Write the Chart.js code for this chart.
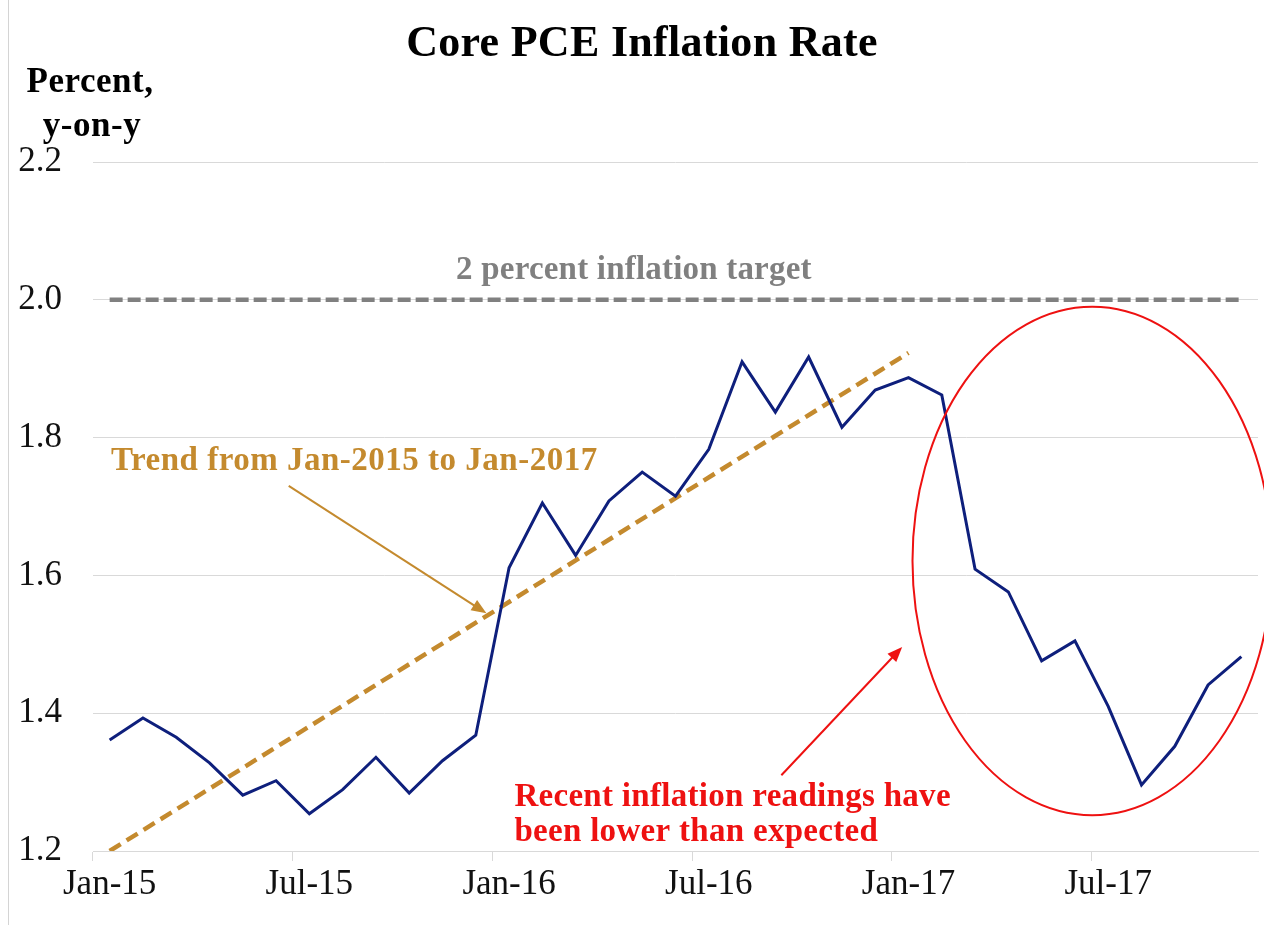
<!DOCTYPE html>
<html>
<head>
<meta charset="utf-8">
<script src="https://cdn.jsdelivr.net/npm/chart.js@4/dist/chart.umd.min.js"></script>
<style>
    html, body { margin: 0; padding: 0; background: #ffffff; }
    #wrap { position: relative; width: 1264px; height: 925px; }
    #wrap::before { content: ""; position: absolute; left: 8px; top: 0; bottom: 0; border-left: 1px solid #d4d4d4; }
</style>
</head>
<body>
<div id="wrap"><canvas id="chartCorePce"></canvas></div>
<script>
// ============================================
// DATA - Core PCE inflation, percent y-on-y
// ============================================
const months = [
    "Jan-15", "Feb-15", "Mar-15", "Apr-15", "May-15", "Jun-15",
    "Jul-15", "Aug-15", "Sep-15", "Oct-15", "Nov-15", "Dec-15",
    "Jan-16", "Feb-16", "Mar-16", "Apr-16", "May-16", "Jun-16",
    "Jul-16", "Aug-16", "Sep-16", "Oct-16", "Nov-16", "Dec-16",
    "Jan-17", "Feb-17", "Mar-17", "Apr-17", "May-17", "Jun-17",
    "Jul-17", "Aug-17", "Sep-17", "Oct-17", "Nov-17"
];

const coreInflation = [
    1.361, 1.393, 1.365, 1.328, 1.281, 1.302,
    1.254, 1.289, 1.336, 1.284, 1.331, 1.368,
    1.611, 1.705, 1.629, 1.708, 1.750, 1.715,
    1.783, 1.910, 1.837, 1.917, 1.815, 1.869,
    1.887, 1.862, 1.609, 1.576, 1.476, 1.505,
    1.410, 1.296, 1.352, 1.441, 1.482
];

// trend line end points (Jan-2015 -> Jan-2017)
const trendFrom  = "Jan-15";
const trendTo    = "Jan-17";
const trendStart = 1.200;
const trendEnd   = 1.923;

const targetRate = 2.0;

const tickLabels = ["Jan-15", "Jul-15", "Jan-16", "Jul-16", "Jan-17", "Jul-17"];
const yTicks     = [1.2, 1.4, 1.6, 1.8, 2.0, 2.2];

const trendData  = months.map((m) => m === trendFrom ? trendStart : (m === trendTo ? trendEnd : null));
const targetData = months.map(() => targetRate);

// ============================================
// STYLE
// ============================================
const SERIF = "'Liberation Serif', 'Times New Roman', serif";
const COLORS = {
    line:   "#0E1F7C",
    trend:  "#C48A2E",
    target: "#808080",
    red:    "#EE1111",
    grid:   "#D9D9D9",
    text:   "#111111",
};

// annotations, placed in data units (category index, percent)
const notes = {
    targetText: { x: 15.75, y: 2.043, text: "2 percent inflation target" },
    trendText:  { x: 7.35,  y: 1.765, text: "Trend from Jan-2015 to Jan-2017" },
    trendArrow: { from: [5.38, 1.730], to: [11.32, 1.545] },
    redArrow:   { from: [20.18, 1.310], to: [23.81, 1.496] },
    redText:    { x: 12.16, y: [1.278, 1.227], lines: ["Recent inflation readings have", "been lower than expected"] },
    ellipse:    { x: 29.52, y: 1.621, rx: 5.4, ry: 0.369 },
};

function drawArrow(ctx, x1, y1, x2, y2, color) {
    const ang = Math.atan2(y2 - y1, x2 - x1);
    const len = 15, half = 6;
    ctx.save();
    ctx.strokeStyle = color;
    ctx.fillStyle = color;
    ctx.lineWidth = 2;
    ctx.beginPath();
    ctx.moveTo(x1, y1);
    ctx.lineTo(x2 - Math.cos(ang) * len * 0.8, y2 - Math.sin(ang) * len * 0.8);
    ctx.stroke();
    ctx.beginPath();
    ctx.moveTo(x2, y2);
    ctx.lineTo(x2 - Math.cos(ang) * len - Math.sin(ang) * half, y2 - Math.sin(ang) * len + Math.cos(ang) * half);
    ctx.lineTo(x2 - Math.cos(ang) * len + Math.sin(ang) * half, y2 - Math.sin(ang) * len - Math.cos(ang) * half);
    ctx.closePath();
    ctx.fill();
    ctx.restore();
}

function drawText(ctx, text, x, y, font, color, align, spacing) {
    ctx.save();
    ctx.font = font;
    ctx.fillStyle = color;
    ctx.textAlign = align;
    ctx.textBaseline = "middle";
    ctx.letterSpacing = spacing || "0px";
    ctx.fillText(text, x, y);
    ctx.restore();
}

const annotationPlugin = {
    id: "pceNotes",
    afterDatasetsDraw(chart) {
        const { ctx, scales: { x, y } } = chart;
        const px = (v) => x.getPixelForValue(v);
        const py = (v) => y.getPixelForValue(v);

        // red ellipse round the 2017 readings
        const e = notes.ellipse;
        const cx = px(e.x), cy = py(e.y);
        const rx = px(e.x + e.rx) - cx, ry = cy - py(e.y + e.ry);
        ctx.save();
        ctx.strokeStyle = COLORS.red;
        ctx.lineWidth = 2;
        ctx.beginPath();
        ctx.ellipse(cx, cy, rx, ry, 0, 0, Math.PI * 2);
        ctx.stroke();
        ctx.restore();

        drawArrow(ctx, px(notes.trendArrow.from[0]), py(notes.trendArrow.from[1]),
                       px(notes.trendArrow.to[0]),   py(notes.trendArrow.to[1]), COLORS.trend);
        drawArrow(ctx, px(notes.redArrow.from[0]), py(notes.redArrow.from[1]),
                       px(notes.redArrow.to[0]),   py(notes.redArrow.to[1]), COLORS.red);

        drawText(ctx, notes.targetText.text, px(notes.targetText.x), py(notes.targetText.y),
                 "bold 33px " + SERIF, COLORS.target, "center", "0.2px");
        drawText(ctx, notes.trendText.text, px(notes.trendText.x), py(notes.trendText.y),
                 "bold 33px " + SERIF, COLORS.trend, "center", "0.5px");
        notes.redText.lines.forEach((t, i) => {
            drawText(ctx, t, px(notes.redText.x), py(notes.redText.y[i]),
                     "bold 33px " + SERIF, COLORS.red, "left", "0.3px");
        });
    },
    afterDraw(chart) {
        const { ctx } = chart;
        drawText(ctx, "Core PCE Inflation Rate", 642, 45, "bold 44px " + SERIF, "#000000", "center", "0.3px");
        drawText(ctx, "Percent,", 90, 83, "bold 35px " + SERIF, "#000000", "center", "0.5px");
        drawText(ctx, "y-on-y", 92, 127, "bold 35px " + SERIF, "#000000", "center", "0.5px");
    },
};

new Chart(document.getElementById("chartCorePce"), {
    type: "line",
    data: {
        labels: months,
        datasets: [
            {
                label: "Core PCE",
                data: coreInflation,
                borderColor: COLORS.line,
                borderWidth: 3,
                pointRadius: 0,
                tension: 0,
                order: 0,
            },
            {
                label: "Trend",
                data: trendData,
                spanGaps: true,
                borderColor: COLORS.trend,
                borderWidth: 4.5,
                borderDash: [13, 7],
                pointRadius: 0,
                order: 1,
            },
            {
                label: "Target",
                data: targetData,
                borderColor: COLORS.target,
                borderWidth: 4.5,
                borderDash: [13, 5],
                pointRadius: 0,
                order: 2,
            },
        ],
    },
    options: {
        responsive: true,
        maintainAspectRatio: false,
        animation: false,
        layout: { padding: { top: 162, right: 6, left: 0, bottom: 0 } },
        plugins: {
            legend:  { display: false },
            tooltip: { enabled: false },
            title:   { display: false },
        },
        scales: {
            x: {
                type: "category",
                offset: true,
                afterFit: (scale) => { scale.height = 74; },
                grid: {
                    offset: true,
                    drawOnChartArea: false,
                    tickLength: 10,
                    color: (c) => (c.index < months.length && tickLabels.includes(months[c.index])) ? COLORS.grid : "rgba(0,0,0,0)",
                },
                border: { display: true, color: COLORS.grid, width: 1 },
                ticks: {
                    autoSkip: false,
                    maxRotation: 0,
                    minRotation: 0,
                    padding: 3,
                    color: COLORS.text,
                    font: { family: SERIF, size: 35 },
                    callback: (v, i) => tickLabels.includes(months[i]) ? months[i] : "",
                },
            },
            y: {
                min: 1.2,
                max: 2.2,
                afterFit: (scale) => { scale.width = 93; },
                afterBuildTicks: (scale) => { scale.ticks = yTicks.map((v) => ({ value: v })); },
                grid: { color: COLORS.grid, lineWidth: 1, drawTicks: false },
                border: { display: false },
                ticks: {
                    padding: 31,
                    color: COLORS.text,
                    font: { family: SERIF, size: 35 },
                    callback: (v) => v.toFixed(1),
                },
            },
        },
    },
    plugins: [annotationPlugin],
});
</script>
</body>
</html>
